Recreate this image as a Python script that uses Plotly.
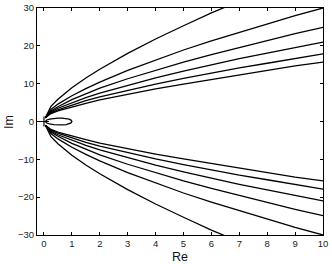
import plotly.graph_objects as go

# sample abscissae (Re)
x_vals = [0.05, 0.25, 0.5, 1, 1.5, 2, 3, 4, 5, 6, 7, 8, 9, 10]

# upper branches (Im), outermost first; lower branches are their mirror images
curve1 = [1.0, 4.0, 5.9, 8.9, 11.5, 13.8, 18.0, 21.8, 25.3, 28.7, 31.8, 34.8, 37.7, 40.5]
curve2 = [1.0, 3.2, 4.6, 6.8, 8.7, 10.4, 13.5, 16.3, 18.9, 21.3, 23.6, 25.8, 28.0, 30.0]
curve3 = [1.0, 2.8, 3.9, 5.8, 7.3, 8.8, 11.3, 13.6, 15.7, 17.7, 19.6, 21.4, 23.2, 24.9]
curve4 = [1.0, 2.5, 3.5, 5.0, 6.3, 7.5, 9.6, 11.5, 13.3, 15.0, 16.6, 18.1, 19.6, 21.0]
curve5 = [1.0, 2.3, 3.1, 4.4, 5.5, 6.5, 8.3, 9.9, 11.4, 12.8, 14.2, 15.4, 16.7, 17.9]
curve6 = [1.0, 2.1, 2.8, 3.9, 4.8, 5.7, 7.2, 8.6, 9.9, 11.1, 12.4, 13.6, 14.7, 15.7]
curves = [curve1, curve2, curve3, curve4, curve5, curve6]

# small closed loop near the origin (upper half; lower half mirrored)
loop_x = [0.05, 0.1, 0.2, 0.35, 0.5, 0.65, 0.8, 0.9, 0.97, 1.0]
loop_y = [0.0, 0.4, 0.62, 0.8, 0.88, 0.88, 0.8, 0.62, 0.38, 0.0]

# marker at the origin
origin_x = [0]
origin_y = [0]

x_ticks = list(range(0, 11))
y_ticks = [-30, -20, -10, 0, 10, 20, 30]

FONT = "Liberation Sans, Arial, sans-serif"
line_style = dict(color="black", width=1.3)

fig = go.Figure()
for c in curves:
    fig.add_trace(go.Scatter(x=x_vals, y=c, mode="lines", line=line_style,
                             showlegend=False, hoverinfo="skip"))
    fig.add_trace(go.Scatter(x=x_vals, y=[-v for v in c], mode="lines", line=line_style,
                             showlegend=False, hoverinfo="skip"))

lx = loop_x + loop_x[::-1]
ly = loop_y + [-v for v in loop_y[::-1]]
fig.add_trace(go.Scatter(x=lx, y=ly, mode="lines", line=line_style,
                         showlegend=False, hoverinfo="skip"))
fig.add_trace(go.Scatter(x=origin_x, y=origin_y, mode="markers",
                         marker=dict(symbol="cross-thin", size=7,
                                     line=dict(color="black", width=1.2)),
                         showlegend=False, hoverinfo="skip"))

axis_common = dict(
    showgrid=False, zeroline=False, showline=True, linecolor="black", linewidth=1,
    mirror="ticks", ticks="inside", ticklen=3, tickcolor="black", tickwidth=1,
    automargin=False,
    tickfont=dict(family=FONT, size=9.5, color="#222"),
)

fig.update_layout(
    width=332, height=264,
    margin=dict(l=37, r=9, t=8, b=29, autoexpand=False),
    paper_bgcolor="white", plot_bgcolor="white",
    xaxis=dict(range=[-0.25, 10], tickvals=x_ticks, **axis_common),
    yaxis=dict(range=[-30, 30], tickvals=y_ticks, **axis_common),
    annotations=[
        dict(text="Re", xref="paper", yref="paper", x=0.5, y=-0.058,
             xanchor="center", yanchor="top", showarrow=False,
             font=dict(family=FONT, size=12.5, color="#111")),
        dict(text="Im", xref="paper", yref="paper", x=-0.1, y=0.5,
             xanchor="center", yanchor="middle", showarrow=False, textangle=-90,
             font=dict(family=FONT, size=12.5, color="#111")),
    ],
)

fig.write_html("out.html", config={"displayModeBar": False},
               post_script="document.body.style.margin='0';document.body.style.overflow='hidden';")
